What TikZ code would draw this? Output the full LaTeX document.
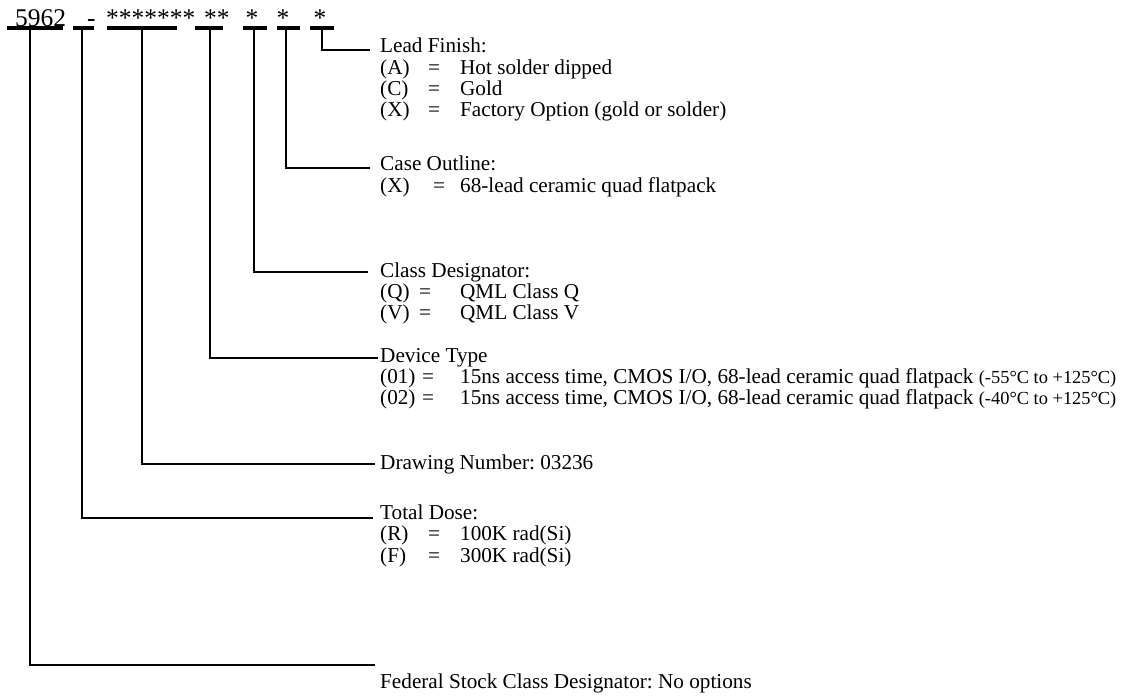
\documentclass[tikz,border=0pt]{standalone}
\usepackage{fontspec}
\setmainfont{Liberation Serif}
\usetikzlibrary{positioning}
\frenchspacing
\newcommand\bodysize{\fontsize{21.2}{21.3}\selectfont}
\newcommand\partsize{\fontsize{25.5}{26}\selectfont}
\newcommand\tempsize{\fontsize{18.4}{18.4}\selectfont}
\newcommand\optrow[3]{\rlap{#1}\hspace*{#2pt}\makebox[0pt]{=}\hspace*{\dimexpr80pt-#2pt\relax}#3}
\tikzset{
  pn text/.style={
    font=\partsize,
    inner sep=0pt,
    anchor=base west
  },
  pn rule/.style={
    line width=3.2pt
  },
  opt block/.style={
    font=\bodysize,
    inner sep=0pt,
    anchor=base west
  },
  opt lead/.style={
    line width=2.7pt
  }
}

\begin{document}
\begin{tikzpicture}[x=1pt, y=-1pt]
        \useasboundingbox (0,0) rectangle (1125,698);

        % part number fields
        \node[pn text] (fsc) at (15,27) {5962};
        \node[pn text] (dose) at (87,27) {-};
        \node[pn text] (dwg) at (106,27) {*******};
        \node[pn text] (dev) at (204,27) {**};
        \node[pn text,anchor=base] (cls) at (252,27) {*};
        \node[pn text,anchor=base] (case) at (283,27) {*};
        \node[pn text,anchor=base] (fin) at (320,27) {*};

        \draw[pn rule] (7,28) -- (63,28);
        \draw[pn rule] (73,28) -- (94,28);
        \draw[pn rule] (107,28) -- (177,28);
        \draw[pn rule] (195,28) -- (223,28);
        \draw[pn rule] (243,28) -- (267,28);
        \draw[pn rule] (277,28) -- (300,28);
        \draw[pn rule] (310,28) -- (334,28);

        \coordinate (fsc tick) at (30,28);
        \coordinate (dose tick) at (82,28);
        \coordinate (dwg tick) at (142,28);
        \coordinate (dev tick) at (210,28);
        \coordinate (cls tick) at (254,28);
        \coordinate (case tick) at (286,28);
        \coordinate (fin tick) at (322,28);

        % option descriptions
        \node[opt block] (fin text) at (380,53) {\begin{tabular}[t]{@{}l@{}}Lead Finish:\\
          \optrow{(A)}{54}{Hot solder dipped}\\
          \optrow{(C)}{54}{Gold}\\
          \optrow{(X)}{54}{Factory Option (gold or solder)}\end{tabular}};
        \node[opt block] (case text) at (380,171) {\begin{tabular}[t]{@{}l@{}}Case Outline:\\
          \optrow{(X)}{59}{68-lead ceramic quad flatpack}\end{tabular}};
        \node[opt block] (cls text) at (380,277) {\begin{tabular}[t]{@{}l@{}}Class Designator:\\
          \optrow{(Q)}{45}{QML Class Q}\\
          \optrow{(V)}{45}{QML Class V}\end{tabular}};
        \node[opt block] (dev text) at (380,362) {\begin{tabular}[t]{@{}l@{}}Device Type\\
          \optrow{(01)}{48}{15ns access time, CMOS I/O, 68-lead ceramic quad flatpack {\tempsize(-55°C to +125°C)}}\\
          \optrow{(02)}{48}{15ns access time, CMOS I/O, 68-lead ceramic quad flatpack {\tempsize(-40°C to +125°C)}}\end{tabular}};
        \node[opt block] (dwg text) at (380,469) {Drawing Number: 03236};
        \node[opt block] (dose text) at (380,519.5) {\begin{tabular}[t]{@{}l@{}}Total Dose:\\
          \optrow{(R)}{54}{100K rad(Si)}\\
          \optrow{(F)}{54}{300K rad(Si)}\end{tabular}};
        \node[opt block] (fsc text) at (380,688) {Federal Stock Class Designator: No options};

        \coordinate (fin end) at (370,50);
        \coordinate (case end) at (370,168);
        \coordinate (cls end) at (368,272);
        \coordinate (dev end) at (378,358);
        \coordinate (dwg end) at (375,464);
        \coordinate (dose end) at (373,518);
        \coordinate (fsc end) at (375,665);

        % leaders
        \draw[opt lead] (fin tick) |- (fin end);
        \draw[opt lead] (case tick) |- (case end);
        \draw[opt lead] (cls tick) |- (cls end);
        \draw[opt lead] (dev tick) |- (dev end);
        \draw[opt lead] (dwg tick) |- (dwg end);
        \draw[opt lead] (dose tick) |- (dose end);
        \draw[opt lead] (fsc tick) |- (fsc end);
      \end{tikzpicture}
\end{document}
